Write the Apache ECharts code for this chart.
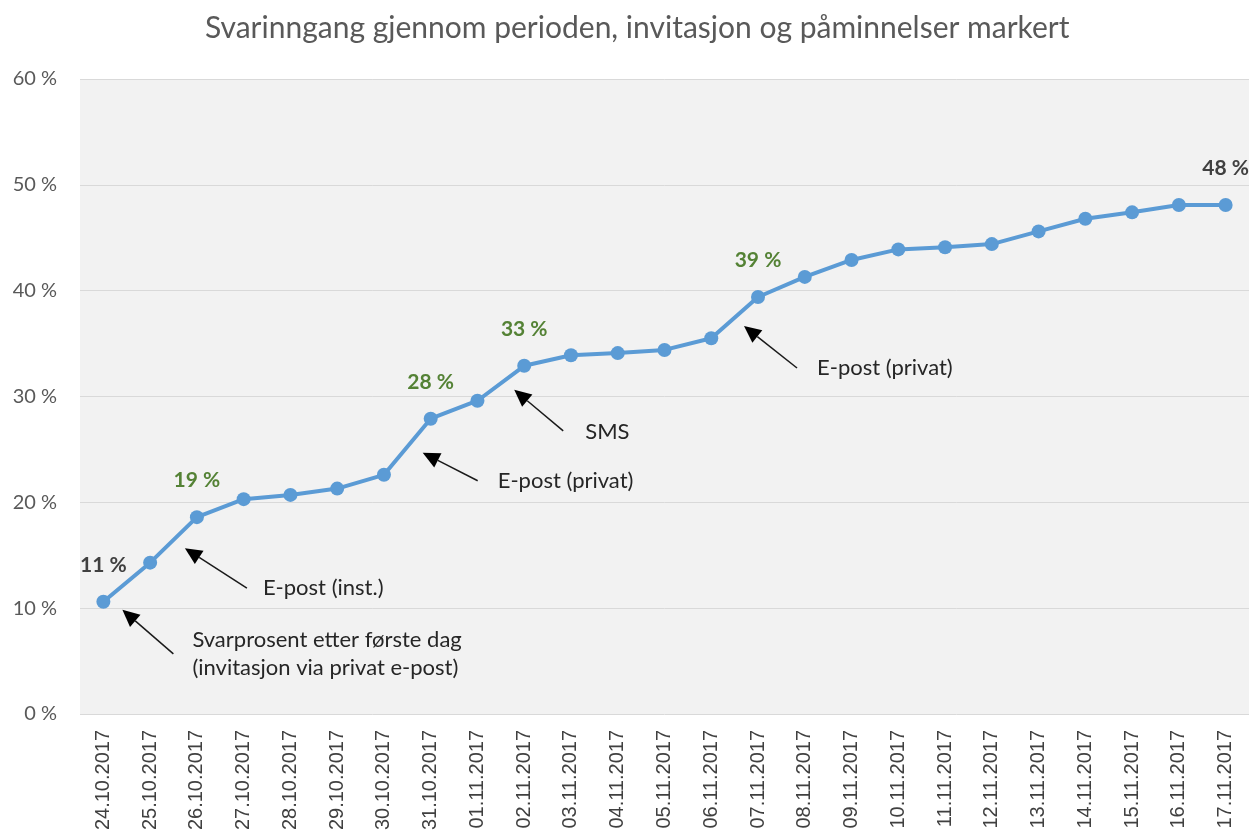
<!DOCTYPE html>
<html>
<head>
<meta charset="utf-8">
<script src="https://cdn.jsdelivr.net/npm/echarts@6/dist/echarts.min.js"></script>
<style>
  html, body { margin: 0; padding: 0; background: #fff; }
  #chart { width: 1250px; height: 839px; }
</style>
</head>
<body>
<div id="chart"></div>
<script>
// dates along the x axis
const dates = [
  '24.10.2017', '25.10.2017', '26.10.2017', '27.10.2017', '28.10.2017',
  '29.10.2017', '30.10.2017', '31.10.2017', '01.11.2017', '02.11.2017',
  '03.11.2017', '04.11.2017', '05.11.2017', '06.11.2017', '07.11.2017',
  '08.11.2017', '09.11.2017', '10.11.2017', '11.11.2017', '12.11.2017',
  '13.11.2017', '14.11.2017', '15.11.2017', '16.11.2017', '17.11.2017',
];

// cumulative response rate (%)
const responseRate = [
  10.6, 14.3, 18.6, 20.3, 20.7, 21.3, 22.6, 27.9, 29.6, 32.9,
  33.9, 34.1, 34.4, 35.5, 39.4, 41.3, 42.9, 43.9, 44.1, 44.4,
  45.6, 46.8, 47.4, 48.1, 48.1,
];

const yTicks = [0, 10, 20, 30, 40, 50, 60];

// points that get a value label
const labelIdx = [0, 2, 7, 9, 14, 24];

// invitation / reminder notes
const noteIdx = [0, 2, 7, 9, 14];
const noteText = [
  'Svarprosent etter første dag\n(invitasjon via privat e-post)',
  'E-post (inst.)',
  'E-post (privat)',
  'SMS',
  'E-post (privat)',
];

const FONT = 'Lato, "Open Sans", sans-serif';
const GREEN = '#548235';
const DARK = '#404040';
const BLUE = '#5b9bd5';

const chart = echarts.init(document.getElementById('chart'));

const seriesData = responseRate.map((v, i) => {
  if (labelIdx.indexOf(i) < 0) return v;
  const edge = i === 0 || i === responseRate.length - 1;
  return {
    value: v,
    label: {
      show: true,
      position: 'top',
      distance: 19,
      formatter: Math.round(v) + ' %',
      color: edge ? DARK : GREEN,
      fontFamily: FONT,
      fontWeight: 'bold',
      fontSize: 21,
    },
  };
});

chart.setOption({
  animation: false,
  title: {
    text: 'Svarinngang gjennom perioden, invitasjon og påminnelser markert',
    left: 200,
    top: 8,
    textStyle: {
      fontFamily: FONT,
      fontWeight: 'normal',
      fontSize: 30,
      color: '#595959',
    },
  },
  grid: {
    left: 80,
    right: 1,
    top: 79,
    bottom: 125,
    show: true,
    backgroundColor: '#f2f2f2',
    borderWidth: 0,
  },
  xAxis: {
    type: 'category',
    data: dates,
    boundaryGap: true,
    axisLine: { show: false },
    axisTick: { show: false },
    axisLabel: {
      rotate: 90,
      margin: 16,
      interval: 0,
      fontFamily: '"Liberation Sans", Arial, sans-serif',
      fontSize: 20,
      color: DARK,
    },
  },
  yAxis: {
    type: 'value',
    min: yTicks[0],
    max: yTicks[yTicks.length - 1],
    interval: 10,
    axisLine: { show: false },
    axisTick: { show: false },
    splitLine: { lineStyle: { color: '#d9d9d9', width: 1 } },
    axisLabel: {
      formatter: '{value} %',
      margin: 23,
      fontFamily: FONT,
      fontSize: 20,
      color: '#595959',
    },
  },
  series: [
    {
      type: 'line',
      data: seriesData,
      symbol: 'circle',
      symbolSize: 14,
      lineStyle: { color: BLUE, width: 4 },
      itemStyle: { color: BLUE },
      z: 3,
    },
  ],
});

// arrows + notes, placed relative to the data point they refer to
const noteLayout = [
  { tip: [19, 8], tail: [70, 52], text: [89, 52] },
  { tip: [-12, 31], tail: [50, 71], text: [66, 71] },
  { tip: [-8, 34], tail: [47, 62], text: [67, 62] },
  { tip: [-10, 24], tail: [39, 65], text: [61, 66] },
  { tip: [-14, 29], tail: [39, 71], text: [59, 71] },
];

function arrow(tx, ty, sx, sy) {
  const ang = Math.atan2(ty - sy, tx - sx);
  const len = 17, half = 8;
  const bx = tx - len * Math.cos(ang), by = ty - len * Math.sin(ang);
  const px = -Math.sin(ang), py = Math.cos(ang);
  return [
    {
      type: 'line',
      shape: { x1: sx, y1: sy, x2: bx, y2: by },
      style: { stroke: '#1a1a1a', lineWidth: 1.5 },
      z: 10,
    },
    {
      type: 'polygon',
      shape: {
        points: [[tx, ty], [bx + px * half, by + py * half], [bx - px * half, by - py * half]],
      },
      style: { fill: '#000' },
      z: 10,
    },
  ];
}

const graphics = [];
noteIdx.forEach((idx, k) => {
  const p = chart.convertToPixel({ seriesIndex: 0 }, [idx, responseRate[idx]]);
  const l = noteLayout[k];
  graphics.push(...arrow(p[0] + l.tip[0], p[1] + l.tip[1], p[0] + l.tail[0], p[1] + l.tail[1]));
  graphics.push({
    type: 'text',
    x: p[0] + l.text[0],
    y: p[1] + l.text[1],
    style: {
      text: noteText[k],
      fontFamily: FONT,
      fontSize: 22,
      lineHeight: 28,
      fill: '#262626',
      textAlign: 'left',
      textVerticalAlign: 'middle',
    },
    z: 10,
  });
});
chart.setOption({ graphic: graphics });
</script>
</body>
</html>
